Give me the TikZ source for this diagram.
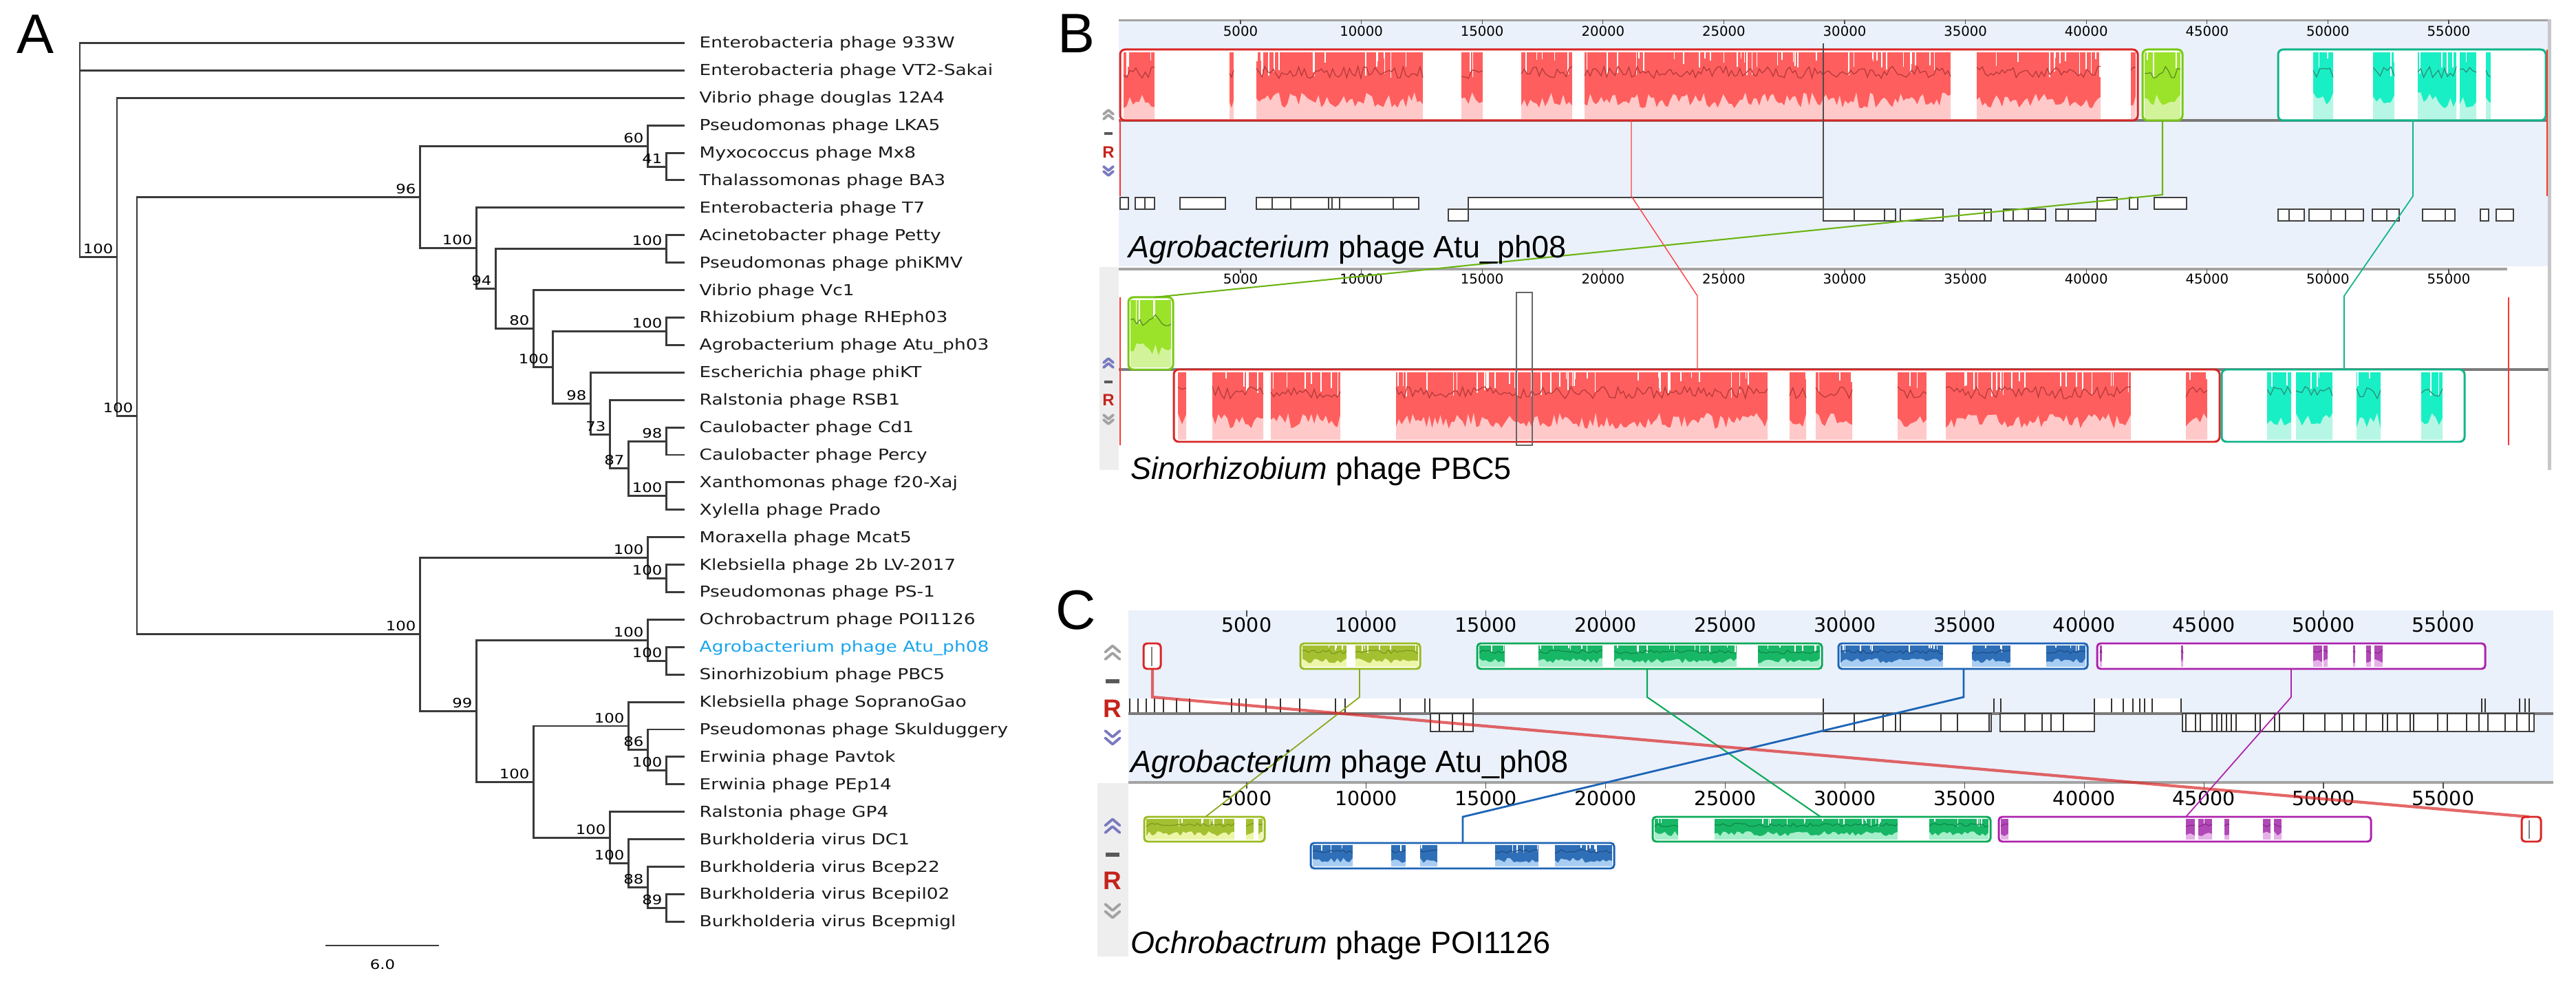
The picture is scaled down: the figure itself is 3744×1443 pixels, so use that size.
\documentclass[tikz,border=0pt]{standalone}
\usepackage{fontspec}
\setmainfont{Liberation Sans}
\newfontfamily\treefont[FakeStretch=1.2]{DejaVu Sans}
\newfontfamily\tickfont{DejaVu Sans}
\usetikzlibrary{calc}
\definecolor{treegray}{HTML}{3A3A3A}
\definecolor{atublue}{HTML}{18A4EC}
\definecolor{mauvebg}{HTML}{EAF1FB}
\definecolor{sidegray}{HTML}{EEEEEE}
\definecolor{rulergray}{HTML}{A3A3A3}
\definecolor{clinegray}{HTML}{7A7A7A}
\definecolor{rred}{HTML}{C4231C}
\definecolor{chevgray}{HTML}{A2A2A2}
\definecolor{chevblue}{HTML}{7A7AC0}
\definecolor{redBd}{HTML}{D92626}
\definecolor{redA}{HTML}{FF5E5E}
\definecolor{redC}{HTML}{FFC9C9}
\definecolor{redL}{HTML}{B53A3A}
\definecolor{limeBd}{HTML}{78C814}
\definecolor{limeA}{HTML}{9BE22A}
\definecolor{limeC}{HTML}{D3F39B}
\definecolor{limeL}{HTML}{5A8F22}
\definecolor{tealBd}{HTML}{10B58A}
\definecolor{tealA}{HTML}{19EFC4}
\definecolor{tealC}{HTML}{B6F6E4}
\definecolor{tealL}{HTML}{2A8F78}
\definecolor{oliveBd}{HTML}{9ABB1E}
\definecolor{oliveA}{HTML}{A4C031}
\definecolor{oliveC}{HTML}{EDF6A8}
\definecolor{oliveL}{HTML}{7D9A1A}
\definecolor{greenBd}{HTML}{0BAA58}
\definecolor{greenA}{HTML}{18B766}
\definecolor{greenC}{HTML}{A6EFCB}
\definecolor{greenL}{HTML}{0E8A4A}
\definecolor{blueBd}{HTML}{1C64B6}
\definecolor{blueA}{HTML}{2F6FB7}
\definecolor{blueC}{HTML}{A8CDF2}
\definecolor{blueL}{HTML}{1F4F8A}
\definecolor{magBd}{HTML}{AD22AD}
\definecolor{magA}{HTML}{B048B5}
\definecolor{magC}{HTML}{E6B0E8}
\definecolor{magL}{HTML}{8A2A8A}

\newcommand\segfill[7]{%
  \fill[#5] (#1,#3) rectangle (#2,#4);
  \pgfmathtruncatemacro\lcbns{max(3,(#2-#1)/4)}%
  \pgfmathsetmacro\lcbh{#4-#3}%
  \pgfmathtruncatemacro\lcbnw{(#2-#1)/14}%
  \ifnum\lcbnw>0
    \foreach \lcbk in {1,...,\lcbnw}{%
      \pgfmathsetmacro\lcbwx{#1+rnd*(#2-#1)}%
      \pgfmathsetmacro\lcbwy{#3+(0.08+0.3*rnd)*\lcbh}%
      \draw[white,line width=0.45pt] (\lcbwx,#3) -- (\lcbwx,\lcbwy);}
  \fi
  \fill[#6] (#1,#4) -- plot[domain=#1:#2,samples=\lcbns] (\x,{#3+0.72*\lcbh+0.12*\lcbh*rand}) -- (#2,#4) -- cycle;
  \draw[#7,line width=0.35pt] plot[domain=#1:#2,samples=\lcbns] (\x,{#3+0.3*\lcbh+0.09*\lcbh*rand});
}

\tikzset{
  upchev/.pic={\draw[line width=1.1pt,line join=round,line cap=round] (-7,-1)--(0,-7)--(7,-1) (-7,6)--(0,0)--(7,6);},
  dnchev/.pic={\draw[line width=1.1pt,line join=round,line cap=round] (-7,1)--(0,7)--(7,1) (-7,-6)--(0,0)--(7,-6);}
}

\begin{document}
\begin{tikzpicture}[x=0.01cm,y=-0.01cm,
  br/.style={draw=treegray,line width=0.85pt},
  leaf/.style={anchor=base west,inner sep=0pt,text=black!90,font=\treefont\fontsize{6.26pt}{7pt}\selectfont},
  bsl/.style={anchor=south east,inner sep=0pt,font=\treefont\fontsize{5.4pt}{6pt}\selectfont},
  panel/.style={inner sep=0pt,font=\fontsize{23pt}{26pt}\selectfont},
  ruler/.style={draw=rulergray,line width=0.9pt},
  tick/.style={draw=black!70,line width=0.35pt},
  tickB/.style={inner sep=0pt,font=\tickfont\fontsize{5.6pt}{6pt}\selectfont},
  tickC/.style={inner sep=0pt,font=\tickfont\fontsize{8.1pt}{9pt}\selectfont},
  cline/.style={draw=clinegray,line width=0.9pt},
  gene/.style={draw=black!75,fill=white,line width=0.35pt},
  gline/.style={draw=black!80,line width=0.35pt},
  glab/.style={anchor=base west,inner sep=0pt,font=\fontsize{12.8pt}{14pt}\selectfont},
  rlabB/.style={inner sep=0pt,text=rred,font=\bfseries\fontsize{6.8pt}{7pt}\selectfont},
  rlabC/.style={inner sep=0pt,text=rred,font=\bfseries\fontsize{10.5pt}{11pt}\selectfont},
  frm/.style={line width=0.85pt,rounded corners=0.07cm},
  frmC/.style={line width=0.85pt,rounded corners=0.05cm}
]
\useasboundingbox (0,0) rectangle (3744,1443);
\pgfmathsetseed{7}

% ================= Panel A : tree =================
\node[panel,anchor=base west] (pA) at (24,78) {A};

\foreach \i/\t in {0/{Enterobacteria phage 933W},1/{Enterobacteria phage VT2-Sakai},2/{Vibrio phage douglas 12A4},
  3/{Pseudomonas phage LKA5},4/{Myxococcus phage Mx8},5/{Thalassomonas phage BA3},6/{Enterobacteria phage T7},
  7/{Acinetobacter phage Petty},8/{Pseudomonas phage phiKMV},9/{Vibrio phage Vc1},10/{Rhizobium phage RHEph03},
  11/{Agrobacterium phage Atu\_ph03},12/{Escherichia phage phiKT},13/{Ralstonia phage RSB1},14/{Caulobacter phage Cd1},
  15/{Caulobacter phage Percy},16/{Xanthomonas phage f20-Xaj},17/{Xylella phage Prado},18/{Moraxella phage Mcat5},
  19/{Klebsiella phage 2b LV-2017},20/{Pseudomonas phage PS-1},21/{Ochrobactrum phage POI1126},
  22/{\color{atublue}Agrobacterium phage Atu\_ph08},23/{Sinorhizobium phage PBC5},24/{Klebsiella phage SopranoGao},
  25/{Pseudomonas phage Skulduggery},26/{Erwinia phage Pavtok},27/{Erwinia phage PEp14},28/{Ralstonia phage GP4},
  29/{Burkholderia virus DC1},30/{Burkholderia virus Bcep22},31/{Burkholderia virus Bcepil02},32/{Burkholderia virus Bcepmigl}}{
  \pgfmathsetmacro\yy{62.5+39.9*\i}
  \coordinate (T\i) at (995,\yy);
  \node[leaf] (L\i) at (1016,\yy+7.5) {\t};
}

\foreach \n/\nx/\ny in {R/116/62.5,N1/170/373.25,N2/199/604.2,N3/610/286.45,N4/941/212.1,N4b/968/242.05,
  N5/692/360.8,N6/720/419.7,N7/968/361.75,N8/775/477.7,N9/803/533.8,N10/968/481.45,N11/858/586.2,
  N12/886/631.1,N13/913/680.95,N14/968/641.05,N15/968/720.85,Nb2/610/921.9,N16/941/810.6,N16b/968/840.55,
  N17/692/1033.2,N18/941/930.3,N18b/968/960.25,N19/775/1136.05,N20/913/1055.0,N20b/941/1089.9,
  N20c/968/1119.85,N21/886/1217.1,N22/913/1254.5,N23/941/1289.4,N24/968/1319.35}
  \coordinate (\n) at (\nx,\ny);

\foreach \p/\a/\b in {R/T0/N1,N1/T2/N2,N2/N3/Nb2,N3/N4/N5,N4/T3/N4b,N4b/T4/T5,N5/T6/N6,N6/N7/N8,
  N7/T7/T8,N8/T9/N9,N9/N10/N11,N10/T10/T11,N11/T12/N12,N12/T13/N13,N13/N14/N15,N14/T14/T15,N15/T16/T17,
  Nb2/N16/N17,N16/T18/N16b,N16b/T19/T20,N17/N18/N19,N18/T21/N18b,N18b/T22/T23,N19/N20/N21,N20/T24/N20b,
  N20b/T25/N20c,N20c/T26/T27,N21/T28/N22,N22/T29/N23,N23/T30/N24,N24/T31/T32}
  \draw[br] (\a) -- (\p |- \a) -- (\p |- \b) -- (\b);
\draw[br] (R |- T1) -- (T1);

\foreach \n/\v in {N1/100,N2/100,N3/96,N4/60,N4b/41,N5/100,N6/94,N7/100,N8/80,N9/100,N10/100,N11/98,
  N12/73,N13/87,N14/98,N15/100,Nb2/100,N16/100,N16b/100,N17/99,N18/100,N18b/100,N19/100,N20/100,
  N20b/86,N20c/100,N21/100,N22/100,N23/88,N24/89}
  \node[bsl] (b\n) at ($(\n)+(-5,-4)$) {\v};

\coordinate (sb1) at (473,1374);
\coordinate (sb2) at (638,1374);
\draw[br] (sb1) -- (sb2);
\node[inner sep=0pt,font=\treefont\fontsize{5.4pt}{6pt}\selectfont] (sbl) at (556,1402) {6.0};

% ================= Panel B =================
\node[panel,anchor=base east] (pB) at (1592,77) {B};

% --- upper genome (Atu_ph08)
\fill[mauvebg] (1626,28) rectangle (3704,387);
\draw[ruler] (1626,29.5) -- (3704,29.5);
\foreach \v/\lab in {1/5000,2/10000,3/15000,4/20000,5/25000,6/30000,7/35000,8/40000,9/45000,10/50000,11/55000}{
  \pgfmathsetmacro\tx{1627.4+175.6*\v}
  \draw[tick] (\tx,29.5) -- (\tx,35);
  \node[tickB] (bu\v) at (\tx,45) {\lab};
}
\draw[cline] (1626,175) -- (3704,175);

\fill[white,rounded corners=0.07cm] (1628,72) rectangle (3107,175);
\foreach \a/\b in {1633/1678,1787/1793,1826/2068,2124/2155,2211/2285,2303/2835,2873/3053,3097/3104}{
  \segfill{\a}{\b}{76}{173}{redA}{redC}{redL}}
\draw[frm,redBd] (1628,72) rectangle (3107,175);

\fill[white,rounded corners=0.07cm] (3114,72) rectangle (3172,175);
\segfill{3117}{3169}{76}{173}{limeA}{limeC}{limeL}
\draw[frm,limeBd] (3114,72) rectangle (3172,175);

\fill[white,rounded corners=0.07cm] (3311,72) rectangle (3700,175);
\foreach \a/\b in {3362/3391,3449/3480,3514/3570,3575/3599,3613/3620}{
  \segfill{\a}{\b}{76}{173}{tealA}{tealC}{tealL}}
\draw[frm,tealBd] (3311,72) rectangle (3700,175);

\foreach \a/\b in {1628/1640,1650/1664,1664/1678,1715/1781,1826/1849,1849/1876,1876/1931,1931/1936,1936/1947,
  1947/2025,2025/2062,2134/2650,3048/3077,3095/3107,3131/3178}
  \draw[gene] (\a,287) rectangle (\b,304);
\foreach \a/\b in {2105/2134,2650/2695,2695/2739,2739/2755,2762/2824,2847/2884,2884/2894,2912/2926,2926/2948,
  2948/2973,2988/3006,3006/3046,3311/3327,3327/3349,3356/3388,3388/3409,3409/3435,3448/3469,3469/3487,
  3521/3554,3554/3568,3605/3617,3628/3653}
  \draw[gene] (\a,304) rectangle (\b,321);

% icons upper B
\pic[color=chevgray] at (1611,167) {upchev};
\fill[black!65] (1605,192) rectangle (1617,196);
\node[rlabB] (rBu) at (1611,221) {R};
\pic[color=chevblue] at (1611,248) {dnchev};

% --- lower genome (PBC5)
\fill[sidegray] (1598,388) rectangle (1626,683);
\fill[black!22] (3703,28) rectangle (3708,683);
\draw[ruler] (1626,391) -- (3644,391);
\foreach \v/\lab in {1/5000,2/10000,3/15000,4/20000,5/25000,6/30000,7/35000,8/40000,9/45000,10/50000,11/55000}{
  \pgfmathsetmacro\tx{1627.4+175.6*\v}
  \draw[tick] (\tx,391) -- (\tx,397);
  \node[tickB] (bl\v) at (\tx,405) {\lab};
}
\draw[cline] (1626,537) -- (3704,537);

\fill[white,rounded corners=0.07cm] (1640,432) rectangle (1705,537);
\segfill{1643}{1702}{436}{534}{limeA}{limeC}{limeL}
\draw[frm,limeBd] (1640,432) rectangle (1705,537);

\fill[white,rounded corners=0.07cm] (1706,537) rectangle (3226,642);
\foreach \a/\b in {1712/1724,1762/1836,1847/1948,2029/2569,2601/2625,2639/2692,2758/2800,2828/3097,3177/3208}{
  \segfill{\a}{\b}{541}{639}{redA}{redC}{redL}}
\draw[frm,redBd] (1706,537) rectangle (3226,642);

\fill[white,rounded corners=0.07cm] (3229,537) rectangle (3582,642);
\foreach \a/\b in {3295/3330,3337/3390,3425/3460,3519/3550}{
  \segfill{\a}{\b}{541}{639}{tealA}{tealC}{tealL}}
\draw[frm,tealBd] (3229,537) rectangle (3582,642);

\draw[black!60,line width=0.5pt] (2204,425) rectangle (2227,647);
\draw[red!80,line width=0.4pt] (1628,432) -- (1628,647);
\draw[red!80,line width=0.4pt] (3646,432) -- (3646,647);

\pic[color=chevblue] at (1611,528) {upchev};
\fill[black!65] (1605,553) rectangle (1617,557);
\node[rlabB] (rBl) at (1611,581) {R};
\pic[color=chevgray] at (1611,609) {dnchev};

% connectors B
\coordinate (cBr1) at (2371,175); \coordinate (cBr2) at (2371,285);
\coordinate (cBr3) at (2467,430); \coordinate (cBr4) at (2467,537);
\coordinate (cBg1) at (3143,175); \coordinate (cBg2) at (3143,283); \coordinate (cBg3) at (1678,432);
\coordinate (cBt1) at (3507,175); \coordinate (cBt2) at (3507,285);
\coordinate (cBt3) at (3407,430); \coordinate (cBt4) at (3407,537);
\coordinate (cBk1) at (2650,63); \coordinate (cBk2) at (2650,320);
\coordinate (cBe1) at (1628,173); \coordinate (cBe2) at (1628,285);
\coordinate (cBe3) at (3702,72); \coordinate (cBe4) at (3702,285);
\draw[black!70,line width=0.45pt] (cBk1) -- (cBk2);
\draw[red!80,line width=0.4pt] (cBe1) -- (cBe2);
\draw[red!80,line width=0.4pt] (cBe3) -- (cBe4);
\draw[red!75,line width=0.4pt] (cBr1) -- (cBr2) -- (cBr3) -- (cBr4);
\draw[limeBd!90!black,line width=0.6pt] (cBg1) -- (cBg2) -- (cBg3);
\draw[tealBd,line width=0.5pt] (cBt1) -- (cBt2) -- (cBt3) -- (cBt4);

\node[glab] (labBu) at (1640,375) {\textit{Agrobacterium} phage Atu\_ph08};
\node[glab] (labBl) at (1643,697) {\textit{Sinorhizobium} phage PBC5};

% ================= Panel C =================
\node[panel,anchor=base east] (pC) at (1594,915) {C};

\fill[mauvebg] (1640,887) rectangle (3711,1137);
\foreach \v/\lab in {1/5000,2/10000,3/15000,4/20000,5/25000,6/30000,7/35000,8/40000,9/45000,10/50000,11/55000}{
  \pgfmathsetmacro\tx{1638+173.9*\v}
  \draw[tick] (\tx,887) -- (\tx,896);
  \node[tickC] (cu\v) at (\tx,908) {\lab};
}
% gene features upper C
\fill[white] (1642,1015) rectangle (2650,1037);
\foreach \xx in {1642,1654,1666,1678,1691,1710,1729,1790,1801,1811,1840,1861,1889,1941,1955,2035,2071,2078,2141,2650}
  \draw[gline] (\xx,1015) -- (\xx,1037);
\fill[white] (3044,1015) rectangle (3170,1037);
\foreach \xx in {2898,2908,3044,3069,3086,3100,3110,3117,3128,3170,3607,3612,3662,3670,3676}
  \draw[gline] (\xx,1015) -- (\xx,1037);
\draw[cline] (1640,1037) -- (3711,1037);
\draw[gene] (2079,1037) rectangle (2141,1063);
\foreach \xx in {2092,2111,2127} \draw[gline] (\xx,1037) -- (\xx,1063);
\draw[gene] (2650,1037) rectangle (2894,1063);
\foreach \xx in {2695,2737,2755,2762,2821,2845,2891} \draw[gline] (\xx,1037) -- (\xx,1063);
\draw[gene] (2907,1037) rectangle (3044,1063);
\foreach \xx in {2943,2968,2981,2999} \draw[gline] (\xx,1037) -- (\xx,1063);
\draw[gene] (3172,1037) rectangle (3683,1063);
\foreach \xx in {3177,3191,3198,3215,3222,3229,3236,3243,3250,3278,3285,3306,3313,3348,3379,3404,3421,
  3439,3463,3470,3484,3503,3508,3543,3557,3585,3603,3616,3641,3658,3676}
  \draw[gline] (\xx,1037) -- (\xx,1063);

% blocks upper C
\fill[white,rounded corners=0.05cm] (1662,935) rectangle (1687,972);
\draw[gline,black!50] (1674,940) -- (1674,968);
\draw[frmC,redBd] (1662,935) rectangle (1687,972);

\fill[white,rounded corners=0.05cm] (1890,935) rectangle (2064,972);
\foreach \a/\b in {1893/1957,1970/2061}{\segfill{\a}{\b}{938}{969}{oliveA}{oliveC}{oliveL}}
\draw[frmC,oliveBd] (1890,935) rectangle (2064,972);

\fill[white,rounded corners=0.05cm] (2147,935) rectangle (2648,972);
\foreach \a/\b in {2150/2187,2236/2329,2346/2524,2555/2645}{\segfill{\a}{\b}{938}{969}{greenA}{greenC}{greenL}}
\draw[frmC,greenBd] (2147,935) rectangle (2648,972);

\fill[white,rounded corners=0.05cm] (2672,935) rectangle (3034,972);
\foreach \a/\b in {2675/2824,2866/2922,2974/3031}{\segfill{\a}{\b}{938}{969}{blueA}{blueC}{blueL}}
\draw[frmC,blueBd] (2672,935) rectangle (3034,972);

\fill[white,rounded corners=0.05cm] (3048,935) rectangle (3612,972);
\foreach \a/\b in {3052/3055,3170/3173,3362/3375,3377/3383,3420/3423,3439/3446,3451/3463}{\segfill{\a}{\b}{938}{969}{magA}{magC}{magL}}
\draw[frmC,magBd] (3048,935) rectangle (3612,972);

\pic[color=chevgray,scale=1.5] at (1617,949) {upchev};
\fill[black!65] (1607,987) rectangle (1627,993);
\node[rlabC] (rCu) at (1617,1030) {R};
\pic[color=chevblue,scale=1.5] at (1617,1071) {dnchev};

% lower C (POI1126)
\fill[sidegray] (1595,1138) rectangle (1640,1390);
\draw[ruler] (1640,1137) -- (3711,1137);
\foreach \v/\lab in {1/5000,2/10000,3/15000,4/20000,5/25000,6/30000,7/35000,8/40000,9/45000,10/50000,11/55000}{
  \pgfmathsetmacro\tx{1638+173.9*\v}
  \draw[tick] (\tx,1137) -- (\tx,1146);
  \node[tickC] (cl\v) at (\tx,1160) {\lab};
}

\fill[white,rounded corners=0.05cm] (1663,1187) rectangle (1838,1223);
\foreach \a/\b in {1666/1794,1811/1822,1829/1835}{\segfill{\a}{\b}{1190}{1220}{oliveA}{oliveC}{oliveL}}
\draw[frmC,oliveBd] (1663,1187) rectangle (1838,1223);

\fill[white,rounded corners=0.05cm] (1905,1225) rectangle (2346,1262);
\foreach \a/\b in {1908/1966,2022/2043,2064/2089,2173/2236,2260/2343}{\segfill{\a}{\b}{1228}{1259}{blueA}{blueC}{blueL}}
\draw[frmC,blueBd] (1905,1225) rectangle (2346,1262);

\fill[white,rounded corners=0.05cm] (2402,1187) rectangle (2893,1223);
\foreach \a/\b in {2405/2439,2492/2758,2804/2890}{\segfill{\a}{\b}{1190}{1220}{greenA}{greenC}{greenL}}
\draw[frmC,greenBd] (2402,1187) rectangle (2893,1223);

\fill[white,rounded corners=0.05cm] (2905,1187) rectangle (3446,1223);
\foreach \a/\b in {2908/2919,3177/3190,3195/3215,3233/3240,3289/3300,3305/3316}{\segfill{\a}{\b}{1190}{1220}{magA}{magC}{magL}}
\draw[frmC,magBd] (2905,1187) rectangle (3446,1223);

\fill[white,rounded corners=0.05cm] (3665,1187) rectangle (3693,1223);
\draw[gline,black!50] (3676,1192) -- (3676,1219);
\draw[frmC,redBd] (3665,1187) rectangle (3693,1223);

\pic[color=chevblue,scale=1.5] at (1617,1201) {upchev};
\fill[black!65] (1607,1239) rectangle (1627,1245);
\node[rlabC] (rCl) at (1617,1280) {R};
\pic[color=chevgray,scale=1.5] at (1617,1323) {dnchev};

% connectors C
\coordinate (cCr1) at (1675,972); \coordinate (cCr2) at (1675,1013); \coordinate (cCr3) at (3676,1187);
\coordinate (cCo1) at (1976,972); \coordinate (cCo2) at (1976,1013); \coordinate (cCo3) at (1752,1187);
\coordinate (cCg1) at (2394,972); \coordinate (cCg2) at (2394,1013); \coordinate (cCg3) at (2646,1187);
\coordinate (cCb1) at (2854,972); \coordinate (cCb2) at (2854,1013); \coordinate (cCb3) at (2126,1187);
\coordinate (cCb4) at (2126,1225);
\coordinate (cCm1) at (3330,972); \coordinate (cCm2) at (3330,1013); \coordinate (cCm3) at (3177,1187);
\draw[oliveBd!90!black,line width=0.5pt] (cCo1) -- (cCo2) -- (cCo3);
\draw[greenBd,line width=0.6pt] (cCg1) -- (cCg2) -- (cCg3);
\draw[blueBd,line width=0.8pt] (cCb1) -- (cCb2) -- (cCb3) -- (cCb4);
\draw[magBd,line width=0.5pt] (cCm1) -- (cCm2) -- (cCm3);
\draw[redBd,opacity=0.7,line width=1.2pt] (cCr1) -- (cCr2) -- (cCr3);

\node[glab] (labCu) at (1643,1123) {\textit{Agrobacterium} phage Atu\_ph08};
\node[glab] (labCl) at (1643,1385) {\textit{Ochrobactrum} phage POI1126};
\end{tikzpicture}
\end{document}
